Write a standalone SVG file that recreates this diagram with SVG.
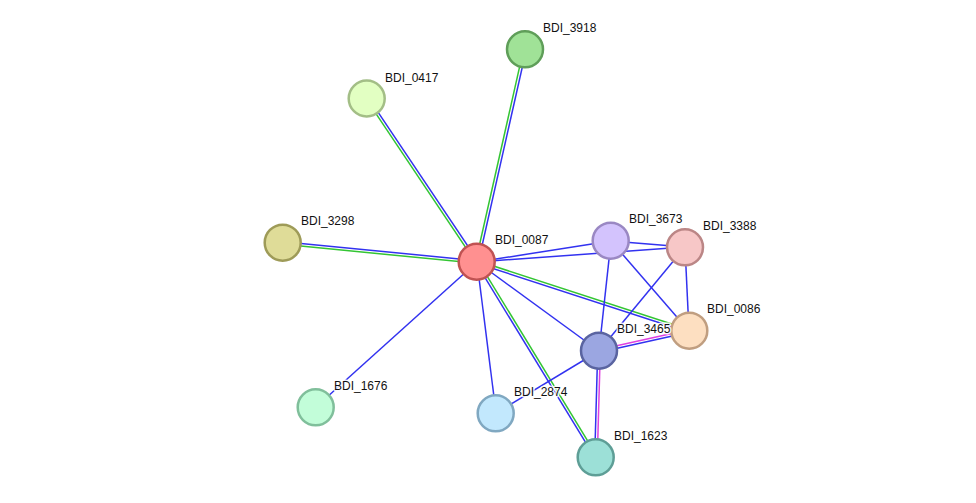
<svg xmlns="http://www.w3.org/2000/svg" width="976" height="503" viewBox="0 0 976 503">
<style>
.e{stroke-width:1.5;fill:none}
.b{stroke:#3232f0}
.g{stroke:#33c533}
.m{stroke:#e040e0}
.n circle{stroke-width:2.5}
.n text{font-family:"Liberation Sans",Arial,sans-serif;font-size:12px;fill:#111;stroke:#fff;stroke-width:3;stroke-opacity:0.85;paint-order:stroke;stroke-linejoin:round}
</style>
<rect width="976" height="503" fill="#fff"/>
<g id="edges">
<line class="e b" x1="478.3" y1="262.3" x2="526.3" y2="49.3"/>
<line class="e g" x1="475.7" y1="261.7" x2="523.7" y2="48.7"/>
<line class="e b" x1="478.1" y1="261.3" x2="368.1" y2="97.3"/>
<line class="e g" x1="475.9" y1="262.7" x2="365.9" y2="98.7"/>
<line class="e b" x1="477.1" y1="260.7" x2="283.1" y2="241.7"/>
<line class="e g" x1="476.9" y1="263.3" x2="282.9" y2="244.3"/>
<line class="e b" x1="477" y1="262" x2="316" y2="407"/>
<line class="e b" x1="477" y1="262" x2="496" y2="413"/>
<line class="e g" x1="478.1" y1="261.3" x2="597.1" y2="456.3"/>
<line class="e b" x1="475.9" y1="262.7" x2="594.9" y2="457.7"/>
<line class="e b" x1="477" y1="262" x2="599" y2="351"/>
<line class="e g" x1="477.4" y1="260.8" x2="689.4" y2="329.8"/>
<line class="e b" x1="476.6" y1="263.2" x2="688.6" y2="332.2"/>
<line class="e b" x1="477" y1="262" x2="611" y2="241"/>
<line class="e b" x1="477" y1="262" x2="685" y2="247"/>
<line class="e b" x1="611" y1="241" x2="685" y2="247"/>
<line class="e b" x1="611" y1="241" x2="599" y2="351"/>
<line class="e b" x1="611" y1="241" x2="689" y2="331"/>
<line class="e b" x1="685" y1="247" x2="599" y2="351"/>
<line class="e b" x1="685" y1="247" x2="689" y2="331"/>
<line class="e b" x1="599.3" y1="352.3" x2="689.3" y2="332.3"/>
<line class="e m" x1="598.7" y1="349.7" x2="688.7" y2="329.7"/>
<line class="e b" x1="597.7" y1="351" x2="594.7" y2="457"/>
<line class="e m" x1="600.3" y1="351" x2="597.3" y2="457"/>
<line class="e b" x1="599" y1="351" x2="496" y2="413"/>
</g>
<g id="BDI_3918" class="n"><circle cx="525" cy="49.3" r="18" fill="#a0e297" stroke="#5f9e59"/><text x="543" y="32">BDI_3918</text></g>
<g id="BDI_0417" class="n"><circle cx="366.7" cy="98.5" r="18" fill="#e2ffc2" stroke="#a3be86"/><text x="385" y="82">BDI_0417</text></g>
<g id="BDI_3298" class="n"><circle cx="282.7" cy="242.7" r="18" fill="#dfdc98" stroke="#9e9b58"/><text x="301" y="225">BDI_3298</text></g>
<g id="BDI_1676" class="n"><circle cx="315.7" cy="407.3" r="18" fill="#c2fdd9" stroke="#80bf9b"/><text x="334" y="390">BDI_1676</text></g>
<g id="BDI_2874" class="n"><circle cx="495.7" cy="413.3" r="18" fill="#c2e8fd" stroke="#80a8c1"/><text x="514" y="396">BDI_2874</text></g>
<g id="BDI_1623" class="n"><circle cx="595.7" cy="457.3" r="18" fill="#9ce0d7" stroke="#5e9e96"/><text x="614" y="440">BDI_1623</text></g>
<g id="BDI_3673" class="n"><circle cx="610.7" cy="240.7" r="18" fill="#d3c3fd" stroke="#9a88c3"/><text x="629" y="223">BDI_3673</text></g>
<g id="BDI_3388" class="n"><circle cx="685" cy="247.3" r="18" fill="#f7c7c7" stroke="#bb8686"/><text x="703" y="230">BDI_3388</text></g>
<g id="BDI_0086" class="n"><circle cx="689.3" cy="330.7" r="18" fill="#fddfc1" stroke="#c09e80"/><text x="707" y="313">BDI_0086</text></g>
<g id="BDI_3465" class="n"><circle cx="599" cy="350.7" r="18" fill="#9ba6e1" stroke="#5a64a0"/><text x="617" y="333">BDI_3465</text></g>
<g id="BDI_0087" class="n"><circle cx="476.7" cy="261.7" r="18" fill="#ff9090" stroke="#c05252"/><text x="495" y="244">BDI_0087</text></g>
</svg>
